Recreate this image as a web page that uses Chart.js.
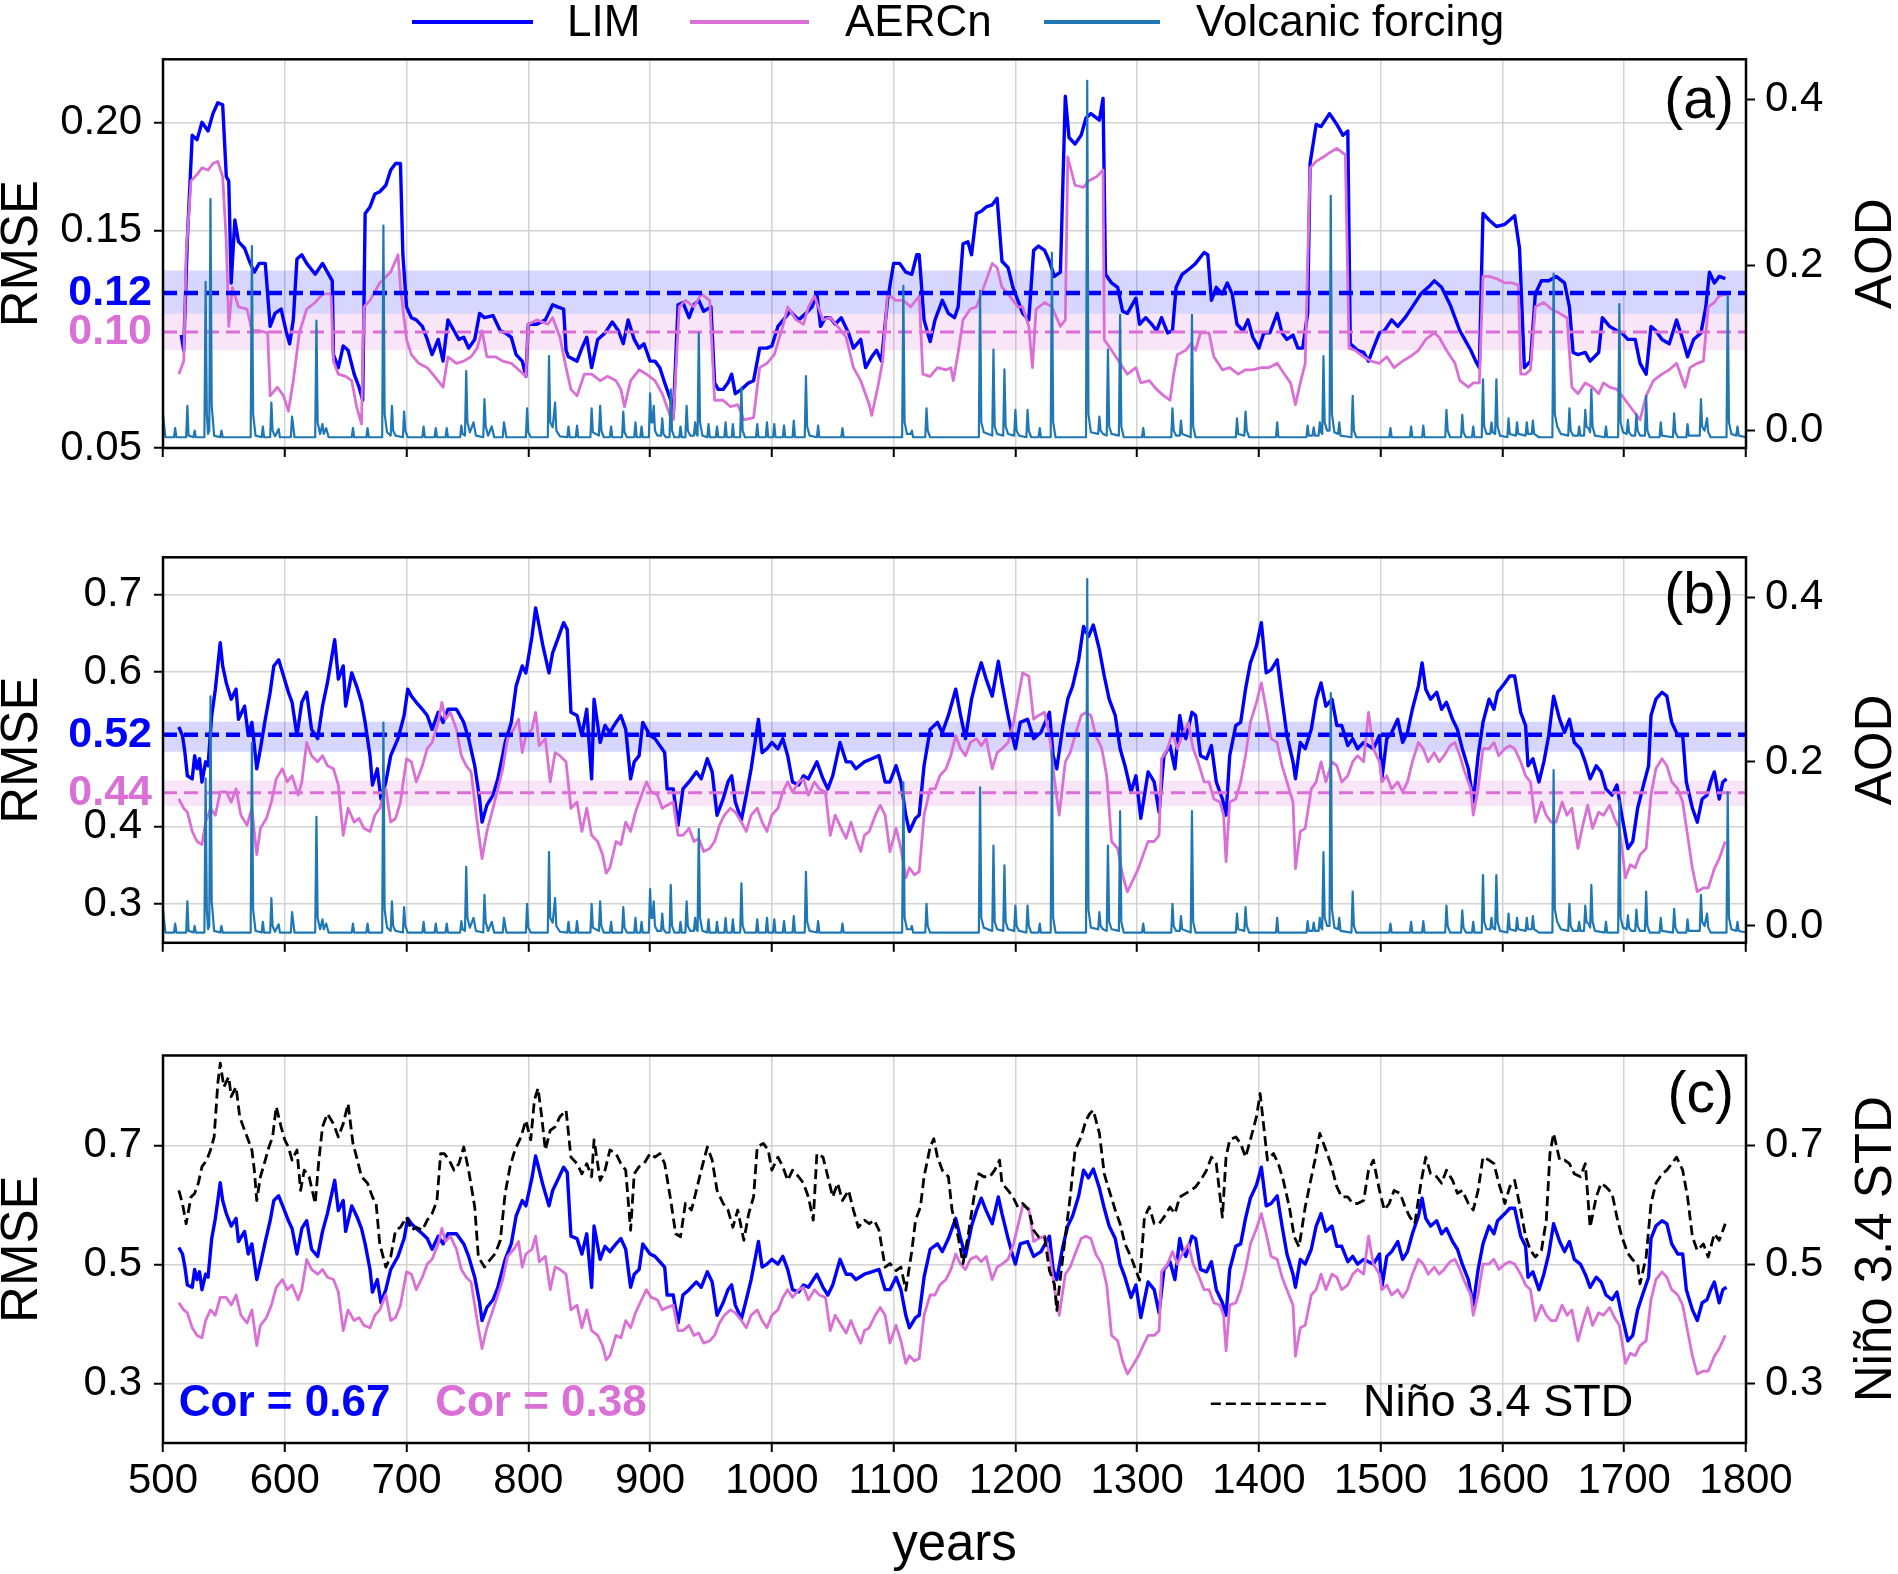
<!DOCTYPE html>
<html>
<head>
<meta charset="utf-8">
<script src="https://cdn.jsdelivr.net/npm/chart.js@4.4.1/dist/chart.umd.min.js"></script>
<style>
html,body{margin:0;padding:0;background:#fff;}
body{width:1898px;height:1574px;position:relative;overflow:hidden;}
.w{position:absolute;left:0;width:1898px;}
</style>
</head>
<body>
<div class="w" style="top:0;height:490px"><canvas id="cA"></canvas></div>
<div class="w" style="top:490px;height:490px"><canvas id="cB"></canvas></div>
<div class="w" style="top:980px;height:594px"><canvas id="cC"></canvas></div>
<script>
// ---------------- DATA ----------------
const xTicks = [500,600,700,800,900,1000,1100,1200,1300,1400,1500,1600,1700,1800];
const ticksA = [0.05, 0.15, 0.20];
const ticksB = [0.3, 0.4, 0.6, 0.7];
const ticksC = [0.3, 0.5, 0.7];
const ticksAOD = [0.0, 0.2, 0.4];

// panel (a) means and +/- bands
const meanA = [0.1214, 0.1034];        // LIM, AERCn
const bandA = [[0.1118, 0.1317], [0.0950, 0.1118]];
// panel (b) means and bands
const meanB = [0.519, 0.444];
const bandB = [[0.497, 0.536], [0.427, 0.460]];

const corText = ["Cor = 0.67", "Cor = 0.38"];

// LIM, panel (a)  [year, RMSE]
const limA = [[515,.102],[517,.095],[520,.146],[524,.194],[528,.192],[532,.200],[537,.196],[541,.204],[545,.209],[549,.208],[552,.175],[554,.173],[556,.126],[559,.155],[562,.145],[567,.142],[571,.136],[575,.131],[579,.135],[584,.135],[588,.106],[592,.112],[597,.114],[601,.104],[604,.098],[607,.109],[610,.137],[614,.139],[618,.135],[625,.130],[631,.135],[635,.131],[639,.127],[640,.093],[644,.087],[648,.097],[652,.095],[657,.084],[661,.078],[664,.072],[666,.158],[670,.161],[674,.167],[678,.168],[683,.171],[687,.178],[691,.181],[695,.181],[697,.139],[700,.115],[704,.110],[708,.109],[713,.106],[717,.100],[721,.093],[726,.100],[730,.090],[734,.109],[739,.104],[743,.100],[747,.101],[751,.096],[756,.100],[760,.112],[764,.110],[771,.111],[777,.104],[781,.103],[786,.101],[790,.093],[795,.090],[798,.083],[800,.107],[807,.107],[814,.109],[820,.116],[824,.115],[829,.114],[831,.095],[833,.092],[840,.090],[844,.096],[848,.101],[852,.087],[857,.100],[863,.103],[869,.108],[874,.104],[878,.098],[882,.109],[887,.100],[891,.096],[895,.098],[900,.090],[904,.090],[908,.087],[912,.080],[917,.072],[919,.064],[923,.116],[927,.117],[932,.110],[936,.116],[940,.118],[944,.113],[950,.115],[953,.080],[956,.077],[960,.077],[964,.080],[967,.084],[970,.075],[975,.077],[981,.080],[985,.081],[990,.096],[996,.096],[1000,.097],[1005,.106],[1011,.110],[1015,.113],[1022,.109],[1028,.112],[1033,.115],[1037,.121],[1040,.106],[1044,.110],[1048,.110],[1052,.107],[1057,.110],[1063,.103],[1067,.096],[1073,.100],[1077,.087],[1082,.092],[1086,.095],[1090,.090],[1095,.118],[1100,.135],[1105,.135],[1110,.131],[1115,.130],[1119,.139],[1121,.139],[1125,.109],[1130,.099],[1134,.109],[1140,.118],[1145,.112],[1150,.110],[1153,.115],[1157,.144],[1161,.145],[1164,.139],[1168,.158],[1172,.159],[1176,.161],[1181,.162],[1185,.165],[1189,.136],[1194,.133],[1198,.124],[1202,.118],[1206,.112],[1211,.109],[1215,.141],[1219,.143],[1224,.141],[1228,.136],[1232,.129],[1237,.131],[1241,.212],[1244,.193],[1249,.190],[1254,.194],[1258,.202],[1262,.204],[1269,.201],[1272,.211],[1274,.130],[1279,.126],[1284,.124],[1288,.113],[1292,.112],[1299,.119],[1302,.107],[1307,.110],[1312,.107],[1316,.104],[1320,.110],[1325,.103],[1329,.104],[1332,.124],[1337,.130],[1344,.133],[1348,.135],[1355,.140],[1358,.139],[1361,.118],[1365,.124],[1370,.121],[1374,.126],[1378,.121],[1382,.107],[1387,.104],[1391,.109],[1395,.101],[1400,.096],[1404,.103],[1409,.103],[1415,.112],[1419,.103],[1423,.100],[1428,.102],[1432,.096],[1436,.096],[1440,.112],[1442,.181],[1447,.199],[1451,.198],[1458,.204],[1464,.199],[1469,.194],[1473,.196],[1475,.098],[1481,.095],[1486,.094],[1490,.090],[1494,.096],[1499,.103],[1503,.104],[1509,.109],[1514,.106],[1520,.110],[1526,.115],[1533,.121],[1539,.124],[1544,.127],[1550,.124],[1557,.116],[1561,.110],[1565,.104],[1569,.100],[1574,.095],[1578,.090],[1581,.087],[1584,.158],[1589,.155],[1595,.152],[1602,.153],[1610,.157],[1614,.142],[1618,.087],[1623,.090],[1627,.121],[1632,.127],[1638,.127],[1644,.129],[1651,.126],[1655,.115],[1658,.094],[1662,.093],[1668,.094],[1672,.090],[1679,.094],[1682,.110],[1688,.106],[1694,.104],[1698,.103],[1703,.100],[1709,.100],[1713,.089],[1718,.084],[1722,.106],[1726,.104],[1731,.100],[1737,.098],[1743,.109],[1748,.100],[1752,.092],[1757,.100],[1763,.103],[1767,.115],[1770,.131],[1774,.126],[1778,.129],[1783,.128]];

// AERCn, panel (a)
const aercA = [[513,.084],[517,.090],[519,.139],[523,.173],[528,.176],[532,.179],[537,.178],[541,.181],[545,.182],[549,.175],[552,.145],[554,.106],[557,.124],[562,.115],[569,.114],[573,.104],[579,.104],[586,.103],[588,.074],[594,.078],[599,.074],[603,.067],[607,.081],[612,.103],[618,.114],[625,.117],[631,.121],[638,.121],[640,.090],[644,.084],[650,.083],[655,.081],[659,.069],[663,.061],[665,.115],[670,.118],[678,.126],[687,.131],[693,.139],[695,.124],[700,.100],[704,.093],[710,.089],[717,.087],[723,.083],[730,.078],[734,.092],[741,.089],[747,.090],[753,.092],[758,.096],[762,.104],[766,.092],[773,.092],[779,.090],[786,.089],[792,.086],[798,.083],[800,.107],[807,.109],[816,.107],[820,.110],[826,.101],[831,.087],[835,.077],[840,.074],[846,.084],[852,.084],[859,.081],[865,.083],[872,.081],[876,.077],[879,.069],[884,.081],[891,.086],[897,.084],[904,.081],[910,.075],[917,.064],[919,.063],[924,.115],[929,.118],[936,.115],[942,.121],[949,.118],[953,.072],[960,.072],[966,.069],[972,.070],[977,.063],[985,.064],[990,.087],[996,.089],[1002,.093],[1009,.106],[1013,.115],[1020,.109],[1026,.107],[1030,.115],[1035,.120],[1042,.109],[1048,.110],[1054,.106],[1061,.101],[1067,.087],[1073,.081],[1080,.070],[1082,.065],[1087,.078],[1091,.090],[1095,.121],[1102,.118],[1108,.118],[1114,.115],[1121,.120],[1124,.084],[1130,.083],[1136,.087],[1143,.086],[1147,.087],[1149,.081],[1153,.094],[1157,.109],[1163,.114],[1168,.115],[1174,.124],[1181,.135],[1185,.133],[1189,.124],[1194,.121],[1202,.115],[1206,.115],[1211,.106],[1214,.087],[1217,.114],[1224,.117],[1230,.115],[1237,.106],[1241,.109],[1243,.184],[1249,.171],[1256,.170],[1260,.173],[1267,.175],[1272,.178],[1273,.100],[1279,.095],[1286,.089],[1292,.084],[1299,.087],[1303,.080],[1310,.081],[1316,.077],[1322,.074],[1327,.072],[1330,.084],[1333,.093],[1340,.095],[1344,.098],[1348,.095],[1352,.103],[1359,.103],[1363,.092],[1370,.086],[1376,.087],[1383,.084],[1389,.086],[1395,.086],[1402,.087],[1408,.087],[1415,.089],[1421,.084],[1426,.080],[1430,.070],[1434,.080],[1438,.089],[1442,.179],[1447,.182],[1453,.184],[1458,.186],[1464,.188],[1471,.185],[1474,.096],[1479,.095],[1486,.092],[1492,.090],[1499,.089],[1505,.092],[1511,.087],[1518,.090],[1524,.092],[1531,.095],[1537,.100],[1544,.103],[1548,.101],[1554,.095],[1561,.089],[1565,.081],[1572,.078],[1576,.080],[1581,.080],[1584,.129],[1589,.129],[1595,.128],[1602,.126],[1608,.126],[1613,.125],[1615,.084],[1619,.084],[1623,.086],[1627,.115],[1634,.117],[1640,.114],[1647,.112],[1653,.110],[1657,.078],[1662,.075],[1668,.080],[1674,.078],[1679,.075],[1683,.080],[1688,.078],[1694,.077],[1701,.072],[1705,.069],[1709,.066],[1713,.063],[1718,.074],[1724,.081],[1731,.084],[1737,.086],[1743,.089],[1750,.078],[1754,.087],[1760,.089],[1765,.090],[1769,.115],[1774,.117],[1778,.120],[1784,.121]];

// LIM, panels (b) and (c)
const limB = [[513,.529],[516,.518],[518,.496],[520,.466],[524,.462],[526,.492],[528,.475],[530,.488],[532,.458],[535,.484],[537,.479],[540,.544],[543,.578],[547,.638],[549,.608],[552,.586],[556,.565],[560,.578],[562,.539],[567,.556],[570,.518],[573,.535],[577,.475],[580,.501],[584,.539],[588,.574],[591,.608],[595,.616],[599,.595],[603,.574],[606,.561],[610,.518],[614,.561],[618,.574],[622,.526],[627,.514],[631,.556],[635,.586],[641,.642],[644,.591],[648,.608],[650,.556],[655,.599],[659,.582],[663,.561],[666,.535],[670,.492],[672,.454],[676,.475],[679,.436],[683,.458],[687,.492],[693,.514],[698,.544],[701,.578],[704,.569],[708,.561],[713,.552],[717,.544],[721,.526],[726,.548],[730,.535],[734,.552],[741,.552],[747,.535],[751,.514],[756,.479],[760,.436],[762,.406],[766,.428],[771,.441],[775,.462],[781,.509],[786,.535],[790,.582],[795,.608],[798,.599],[803,.646],[806,.683],[809,.659],[812,.634],[817,.599],[820,.625],[824,.642],[829,.664],[832,.655],[835,.548],[840,.544],[844,.518],[848,.552],[852,.462],[854,.565],[859,.509],[863,.531],[867,.522],[872,.535],[876,.544],[880,.526],[884,.462],[887,.484],[891,.492],[894,.535],[900,.518],[904,.514],[908,.505],[912,.496],[914,.449],[919,.449],[923,.402],[927,.449],[932,.458],[938,.471],[942,.462],[947,.488],[951,.471],[955,.415],[960,.436],[964,.458],[967,.466],[970,.432],[975,.409],[979,.441],[983,.475],[989,.539],[992,.496],[996,.501],[1000,.509],[1005,.501],[1009,.514],[1013,.492],[1017,.458],[1022,.454],[1026,.466],[1030,.462],[1037,.484],[1042,.462],[1046,.449],[1050,.466],[1056,.509],[1061,.484],[1065,.484],[1069,.475],[1076,.484],[1082,.488],[1088,.492],[1093,.458],[1097,.458],[1102,.479],[1106,.458],[1110,.415],[1113,.394],[1118,.411],[1121,.415],[1125,.479],[1130,.526],[1136,.535],[1140,.522],[1145,.544],[1151,.578],[1155,.544],[1159,.514],[1164,.565],[1168,.591],[1172,.612],[1176,.591],[1181,.569],[1186,.614],[1189,.586],[1194,.544],[1198,.514],[1200,.501],[1204,.535],[1210,.539],[1215,.514],[1221,.522],[1228,.548],[1231,.492],[1234,.475],[1239,.531],[1243,.565],[1247,.582],[1252,.616],[1256,.659],[1260,.646],[1264,.661],[1269,.629],[1273,.595],[1277,.565],[1282,.544],[1286,.501],[1290,.479],[1295,.445],[1299,.466],[1303,.411],[1309,.471],[1314,.458],[1318,.419],[1322,.492],[1327,.505],[1331,.475],[1335,.544],[1337,.526],[1340,.514],[1345,.548],[1348,.544],[1352,.492],[1357,.488],[1361,.505],[1365,.458],[1370,.436],[1373,.415],[1376,.492],[1381,.531],[1385,.535],[1389,.578],[1393,.612],[1398,.634],[1402,.664],[1406,.599],[1410,.603],[1415,.616],[1419,.565],[1423,.518],[1428,.484],[1430,.462],[1434,.509],[1438,.501],[1443,.526],[1447,.565],[1451,.586],[1455,.556],[1460,.565],[1464,.531],[1468,.531],[1473,.505],[1477,.514],[1481,.501],[1486,.509],[1490,.505],[1494,.501],[1499,.518],[1501,.462],[1505,.514],[1509,.522],[1514,.539],[1518,.509],[1522,.522],[1526,.552],[1531,.582],[1534,.612],[1537,.578],[1541,.565],[1546,.574],[1550,.552],[1554,.561],[1559,.539],[1563,.526],[1567,.501],[1572,.475],[1576,.432],[1580,.492],[1584,.535],[1589,.565],[1593,.552],[1596,.574],[1602,.586],[1606,.595],[1610,.595],[1615,.548],[1619,.531],[1621,.479],[1625,.488],[1630,.458],[1634,.484],[1638,.518],[1642,.569],[1647,.539],[1651,.522],[1655,.539],[1659,.509],[1664,.501],[1668,.484],[1672,.462],[1677,.479],[1681,.471],[1685,.449],[1690,.441],[1694,.454],[1698,.415],[1703,.372],[1707,.381],[1711,.424],[1715,.449],[1720,.479],[1722,.544],[1726,.565],[1731,.574],[1735,.569],[1739,.535],[1744,.518],[1748,.518],[1751,.458],[1756,.424],[1760,.406],[1764,.436],[1768,.441],[1771,.458],[1774,.471],[1778,.436],[1781,.458],[1784,.462]];

// AERCn, panels (b) and (c)
const aercB = [[513,.436],[517,.424],[520,.419],[524,.394],[528,.381],[532,.377],[535,.406],[539,.424],[543,.415],[547,.445],[552,.445],[556,.432],[560,.449],[564,.415],[569,.402],[573,.424],[577,.364],[580,.398],[585,.411],[589,.432],[593,.462],[598,.475],[602,.458],[606,.466],[611,.441],[614,.458],[618,.509],[622,.492],[627,.484],[631,.492],[635,.479],[640,.475],[644,.454],[648,.389],[652,.424],[657,.406],[661,.411],[665,.398],[670,.394],[674,.415],[678,.424],[683,.449],[687,.406],[691,.411],[695,.432],[700,.488],[704,.484],[708,.458],[713,.479],[717,.501],[721,.509],[726,.535],[729,.561],[732,.539],[736,.548],[741,.526],[745,.492],[749,.479],[753,.471],[758,.406],[762,.359],[766,.394],[771,.424],[775,.449],[779,.475],[783,.514],[788,.526],[792,.539],[795,.496],[798,.518],[803,.526],[806,.548],[809,.505],[814,.514],[818,.458],[822,.496],[826,.492],[831,.484],[835,.424],[840,.432],[844,.394],[848,.424],[852,.389],[857,.381],[861,.364],[864,.340],[867,.347],[872,.381],[876,.377],[880,.406],[884,.394],[888,.419],[893,.441],[897,.458],[901,.445],[906,.441],[910,.424],[914,.428],[919,.432],[923,.389],[927,.389],[932,.398],[936,.381],[940,.385],[944,.368],[949,.372],[953,.381],[957,.402],[961,.415],[966,.424],[970,.419],[975,.406],[979,.394],[983,.415],[988,.424],[992,.406],[996,.394],[1000,.415],[1005,.424],[1009,.445],[1013,.458],[1017,.445],[1022,.458],[1026,.462],[1030,.441],[1035,.458],[1039,.449],[1044,.445],[1048,.389],[1052,.415],[1057,.398],[1061,.385],[1065,.406],[1069,.385],[1073,.368],[1076,.389],[1080,.394],[1085,.415],[1089,.428],[1093,.415],[1097,.368],[1102,.398],[1106,.372],[1110,.334],[1113,.347],[1117,.338],[1121,.342],[1125,.415],[1130,.449],[1134,.449],[1138,.466],[1143,.475],[1147,.492],[1151,.518],[1155,.501],[1159,.492],[1163,.509],[1168,.514],[1172,.505],[1176,.514],[1181,.475],[1185,.496],[1189,.501],[1194,.509],[1198,.531],[1202,.565],[1206,.599],[1211,.595],[1215,.539],[1219,.544],[1224,.548],[1228,.518],[1232,.462],[1236,.415],[1241,.484],[1245,.496],[1249,.518],[1254,.544],[1258,.548],[1262,.544],[1266,.518],[1271,.501],[1275,.466],[1279,.381],[1284,.372],[1288,.338],[1292,.316],[1296,.329],[1301,.346],[1305,.364],[1309,.381],[1314,.381],[1318,.389],[1320,.488],[1325,.501],[1329,.522],[1333,.501],[1337,.518],[1342,.535],[1346,.501],[1350,.484],[1355,.458],[1359,.458],[1363,.436],[1368,.432],[1371,.415],[1373,.355],[1376,.432],[1381,.436],[1385,.458],[1389,.492],[1393,.535],[1398,.561],[1402,.586],[1406,.552],[1410,.514],[1415,.509],[1419,.479],[1423,.458],[1428,.432],[1430,.346],[1434,.394],[1438,.398],[1443,.449],[1447,.458],[1451,.484],[1455,.458],[1460,.484],[1464,.479],[1468,.458],[1473,.466],[1477,.484],[1481,.492],[1486,.484],[1490,.548],[1494,.501],[1499,.484],[1501,.458],[1505,.466],[1509,.449],[1514,.458],[1518,.445],[1522,.458],[1526,.484],[1531,.509],[1535,.501],[1539,.484],[1544,.496],[1548,.484],[1552,.492],[1557,.505],[1561,.509],[1565,.492],[1569,.471],[1574,.449],[1576,.415],[1580,.449],[1584,.501],[1589,.501],[1593,.509],[1597,.492],[1602,.501],[1606,.505],[1610,.501],[1615,.484],[1619,.466],[1623,.458],[1627,.406],[1632,.432],[1636,.415],[1640,.406],[1644,.406],[1649,.432],[1653,.415],[1657,.424],[1662,.372],[1666,.402],[1670,.428],[1674,.398],[1679,.419],[1683,.415],[1688,.428],[1692,.411],[1696,.398],[1701,.334],[1705,.351],[1709,.347],[1713,.364],[1718,.372],[1722,.441],[1726,.475],[1731,.488],[1735,.479],[1739,.458],[1744,.449],[1748,.432],[1752,.389],[1756,.346],[1760,.316],[1765,.321],[1769,.321],[1774,.346],[1778,.359],[1783,.381]];

// Nino 3.4 STD, panel (c)
const nino = [[513,.625],[516,.603],[519,.569],[523,.614],[526,.620],[529,.637],[532,.665],[536,.676],[539,.693],[542,.715],[545,.805],[547,.839],[550,.799],[554,.816],[556,.783],[560,.799],[563,.749],[567,.726],[570,.710],[573,.693],[575,.659],[577,.608],[580,.648],[584,.676],[587,.698],[590,.715],[593,.766],[597,.732],[600,.710],[603,.698],[606,.676],[610,.693],[613,.625],[616,.659],[620,.648],[625,.603],[628,.676],[631,.732],[635,.754],[640,.737],[644,.715],[648,.737],[652,.771],[656,.704],[659,.681],[663,.648],[668,.637],[672,.614],[675,.603],[678,.535],[683,.496],[687,.513],[691,.558],[695,.563],[700,.580],[704,.558],[708,.563],[713,.558],[717,.575],[721,.586],[725,.608],[728,.687],[731,.687],[735,.676],[739,.659],[743,.670],[747,.698],[751,.659],[756,.597],[759,.513],[764,.496],[768,.507],[773,.519],[777,.541],[781,.620],[785,.665],[789,.693],[794,.715],[798,.743],[802,.710],[805,.777],[808,.797],[811,.749],[814,.693],[818,.726],[822,.732],[826,.749],[831,.760],[835,.681],[840,.670],[844,.653],[848,.670],[852,.648],[854,.710],[859,.642],[863,.659],[867,.693],[872,.687],[876,.670],[880,.659],[884,.558],[887,.653],[891,.665],[895,.670],[900,.687],[904,.681],[908,.687],[912,.670],[917,.608],[921,.552],[925,.547],[929,.603],[934,.592],[938,.625],[942,.659],[947,.698],[951,.676],[955,.625],[960,.603],[964,.592],[968,.563],[972,.592],[977,.541],[981,.586],[985,.614],[988,.698],[993,.704],[997,.693],[1000,.659],[1005,.681],[1009,.665],[1013,.642],[1017,.659],[1022,.648],[1026,.637],[1030,.614],[1034,.575],[1037,.687],[1042,.681],[1046,.648],[1050,.614],[1054,.637],[1058,.608],[1063,.625],[1067,.592],[1071,.563],[1076,.575],[1080,.569],[1084,.575],[1088,.558],[1093,.496],[1097,.502],[1102,.490],[1106,.496],[1110,.457],[1115,.524],[1118,.575],[1122,.597],[1125,.648],[1130,.698],[1133,.712],[1136,.681],[1140,.659],[1145,.648],[1148,.592],[1153,.547],[1157,.502],[1161,.547],[1166,.614],[1170,.653],[1174,.648],[1179,.648],[1183,.659],[1187,.676],[1189,.637],[1194,.625],[1198,.614],[1202,.597],[1206,.603],[1211,.592],[1215,.558],[1219,.547],[1224,.547],[1228,.490],[1232,.468],[1234,.423],[1237,.479],[1241,.547],[1245,.614],[1249,.693],[1254,.715],[1258,.743],[1261,.754],[1264,.760],[1269,.721],[1273,.653],[1277,.625],[1282,.592],[1286,.569],[1290,.535],[1295,.513],[1299,.490],[1302,.474],[1306,.580],[1310,.597],[1314,.569],[1318,.569],[1322,.580],[1327,.597],[1331,.586],[1335,.614],[1340,.620],[1344,.625],[1348,.631],[1352,.642],[1357,.659],[1361,.681],[1365,.670],[1370,.580],[1373,.681],[1376,.710],[1381,.715],[1385,.704],[1389,.681],[1393,.710],[1398,.749],[1401,.788],[1404,.732],[1407,.676],[1412,.687],[1416,.670],[1420,.642],[1425,.597],[1429,.547],[1433,.530],[1438,.597],[1442,.637],[1446,.676],[1450,.721],[1455,.693],[1459,.670],[1464,.631],[1468,.614],[1473,.614],[1477,.603],[1481,.603],[1486,.608],[1490,.659],[1494,.676],[1499,.625],[1503,.592],[1507,.603],[1511,.625],[1516,.620],[1520,.597],[1524,.580],[1528,.569],[1533,.637],[1537,.681],[1541,.653],[1546,.648],[1550,.637],[1554,.659],[1559,.642],[1563,.620],[1567,.625],[1572,.603],[1576,.592],[1580,.625],[1584,.681],[1589,.676],[1593,.670],[1597,.637],[1602,.603],[1606,.631],[1610,.642],[1615,.592],[1619,.547],[1623,.524],[1627,.513],[1632,.524],[1636,.575],[1639,.687],[1642,.721],[1647,.676],[1651,.676],[1655,.670],[1659,.653],[1664,.648],[1668,.670],[1672,.563],[1677,.614],[1681,.637],[1685,.631],[1690,.620],[1694,.580],[1698,.547],[1703,.519],[1707,.508],[1711,.502],[1713,.468],[1718,.513],[1722,.603],[1726,.637],[1731,.653],[1735,.659],[1739,.670],[1743,.681],[1748,.659],[1752,.614],[1756,.547],[1760,.524],[1765,.535],[1769,.513],[1774,.552],[1778,.541],[1783,.569]];

// Volcanic forcing (AOD), panels (a) and (b)
const volc = [[500,0.02],[502,-0.008],[509,-0.008],[510,0.003],[511,-0.008],[519,-0.008],[520,0.03],[521,-0.006],[525,-0.008],[526,0.0],[527,-0.008],
[534,-0.008],[535,0.18],[536,0.02],[537,-0.004],[538,0.0],[539,0.28],[540,0.03],[542,-0.006],[547,-0.008],[548,0.0],[549,-0.008],
[572,-0.008],[573,0.223],[574,0.02],[576,-0.006],[581,-0.008],[582,0.005],[583,-0.008],[588,-0.008],[589,0.034],[590,0.0],[592,-0.007],[595,0.002],[596,-0.008],
[605,-0.008],[606,0.017],[608,-0.008],[625,-0.008],[626,0.133],[627,0.01],[629,-0.004],[631,0.008],[632,-0.004],[634,0.003],[636,-0.008],
[655,-0.008],[656,0.003],[657,-0.008],[667,-0.008],[668,0.003],[669,-0.008],
[680,-0.008],[681,0.248],[682,0.02],[684,-0.002],[687,-0.006],[688,0.03],[689,0.0],[691,-0.006],[697,-0.008],[698,0.023],[699,0.0],[701,-0.008],
[713,-0.008],[714,0.005],[715,-0.008],[723,-0.008],[724,0.003],[725,-0.008],[732,-0.008],[733,0.003],[734,-0.008],[744,-0.008],[745,0.006],[746,-0.004],[748,-0.006],[749,0.072],[750,0.01],[752,-0.002],[755,0.01],[757,-0.006],[763,-0.008],[764,0.038],[765,0.005],[767,-0.006],[770,0.005],[772,-0.008],[779,-0.008],[780,0.01],[782,-0.008],
[798,-0.008],[799,0.027],[800,-0.002],[802,-0.008],[816,-0.008],[817,0.09],[818,0.01],[820,0.004],[822,0.034],[823,0.0],[826,-0.007],[832,-0.008],[833,0.005],[834,-0.008],[839,-0.008],[840,0.006],[841,-0.008],
[851,-0.008],[852,0.027],[853,-0.002],[858,-0.006],[859,0.03],[860,0.0],[862,-0.008],[867,-0.008],[868,0.005],[869,-0.008],[877,-0.008],[878,0.023],[879,-0.002],[881,-0.008],[887,-0.008],[888,0.01],[889,-0.008],[892,-0.008],[893,0.005],[894,-0.008],
[899,-0.008],[900,0.045],[901,0.01],[902,0.01],[903,0.03],[904,0.0],[906,-0.006],[909,-0.006],[910,0.015],[911,-0.004],[913,-0.008],[916,-0.008],[917,0.05],[918,0.0],[920,-0.008],[924,-0.008],[925,0.005],[926,-0.008],[929,-0.008],[930,0.03],[931,0.0],[933,-0.006],[936,-0.006],[937,0.01],[938,-0.004],[939,-0.006],[940,0.118],[941,0.01],[943,-0.006],
[947,-0.008],[948,0.008],[949,-0.008],[954,-0.008],[955,0.005],[956,-0.008],[961,-0.008],[962,0.01],[963,-0.008],[967,-0.008],[968,0.008],[969,-0.008],[974,-0.008],[975,0.052],[976,0.0],[978,-0.008],
[987,-0.008],[988,0.008],[989,-0.008],[995,-0.008],[996,0.01],[997,-0.008],[1001,-0.008],[1002,0.008],[1003,-0.008],[1009,-0.008],[1010,0.006],[1011,-0.008],[1017,-0.008],[1018,0.012],[1019,-0.008],[1027,-0.008],[1028,0.066],[1029,0.005],[1031,-0.006],[1037,-0.008],[1038,0.006],[1039,-0.008],
[1057,-0.008],[1058,0.003],[1059,-0.008],
[1107,-0.008],[1108,0.175],[1109,0.01],[1111,-0.004],[1114,-0.004],[1115,0.0],[1116,-0.008],[1126,-0.008],[1127,0.027],[1128,0.0],[1130,-0.008],
[1170,-0.008],[1171,0.169],[1172,0.01],[1174,-0.002],[1181,-0.006],[1182,0.098],[1183,0.005],[1185,-0.004],[1190,-0.006],[1191,0.074],[1192,0.005],[1194,-0.004],[1199,-0.006],[1200,0.025],[1201,0.0],[1203,-0.006],[1209,-0.008],[1210,0.025],[1211,0.0],[1213,-0.008],[1219,-0.008],[1220,0.003],[1221,-0.008],
[1229,-0.008],[1230,0.215],[1231,0.01],[1233,-0.008],
[1258,-0.008],[1259,0.423],[1260,0.02],[1262,-0.002],[1268,-0.004],[1269,0.017],[1270,0.0],[1272,-0.004],[1275,-0.006],[1276,0.098],[1277,0.005],[1279,-0.004],[1285,-0.006],[1286,0.14],[1287,0.005],[1289,-0.008],
[1304,-0.008],[1305,0.003],[1306,-0.008],[1328,-0.008],[1329,0.027],[1330,0.0],[1332,-0.006],[1335,-0.006],[1336,0.012],[1337,-0.004],[1344,-0.008],[1345,0.14],[1346,0.005],[1348,-0.008],
[1381,-0.008],[1382,0.015],[1383,-0.004],[1388,-0.006],[1389,0.023],[1390,0.0],[1392,-0.008],[1414,-0.008],[1415,0.01],[1416,-0.008],
[1439,-0.008],[1440,0.006],[1441,-0.006],[1444,-0.006],[1445,0.004],[1446,-0.006],[1449,-0.006],[1450,0.01],[1451,-0.002],[1452,-0.004],[1453,0.09],[1454,0.01],[1456,0.0],[1458,0.0],[1459,0.284],[1460,0.02],[1462,-0.002],[1465,-0.004],[1466,0.01],[1467,-0.006],[1476,-0.008],[1477,0.042],[1478,0.0],[1480,-0.008],
[1507,-0.008],[1508,0.003],[1509,-0.008],[1524,-0.008],[1525,0.005],[1526,-0.008],[1534,-0.008],[1535,0.006],[1536,-0.008],[1553,-0.008],[1554,0.025],[1555,0.0],[1557,-0.008],[1566,-0.008],[1567,0.019],[1568,-0.002],[1570,-0.008],[1575,-0.008],[1576,0.005],[1577,-0.008],
[1583,-0.008],[1584,0.062],[1585,0.005],[1587,-0.004],[1590,-0.004],[1591,0.01],[1592,-0.002],[1594,-0.004],[1595,0.062],[1596,0.005],[1598,-0.006],[1604,-0.008],[1605,0.015],[1606,-0.004],[1611,-0.006],[1612,0.01],[1613,-0.004],[1619,-0.006],[1620,0.01],[1621,-0.004],[1624,-0.004],[1625,0.012],[1626,-0.004],[1630,-0.008],
[1641,-0.008],[1642,0.19],[1643,0.02],[1645,0.005],[1648,-0.004],[1654,-0.006],[1655,0.027],[1656,0.0],[1658,-0.006],[1662,-0.006],[1663,0.005],[1664,-0.006],[1667,-0.006],[1668,0.025],[1669,0.005],[1671,0.002],[1672,-0.002],[1673,0.05],[1674,0.005],[1676,-0.006],[1684,-0.008],[1685,0.005],[1686,-0.008],
[1695,-0.008],[1696,0.153],[1697,0.01],[1699,-0.002],[1702,-0.004],[1703,0.013],[1704,-0.002],[1706,-0.006],[1709,-0.006],[1710,0.02],[1711,0.0],[1713,-0.006],[1717,-0.006],[1718,0.042],[1719,0.0],[1721,-0.008],[1729,-0.008],[1730,0.01],[1731,-0.006],
[1740,-0.008],[1741,0.021],[1742,-0.002],[1744,-0.008],[1751,-0.008],[1752,0.008],[1753,-0.006],[1762,-0.006],[1763,0.038],[1764,0.005],[1766,0.0],[1768,0.015],[1769,-0.002],[1771,-0.008],
[1784,-0.008],[1785,0.163],[1786,0.01],[1788,-0.004],[1792,-0.006],[1793,0.005],[1794,-0.006],[1800,-0.008]];

// ---------------- STYLE ----------------
const FONT = "'Liberation Sans', Arial, Helvetica, sans-serif";
Chart.defaults.font.family = FONT;
Chart.defaults.color = '#000';
const C_LIM = '#0000ff', C_AER = '#da70d6', C_VOL = '#1f77b4';
const LEFT_W = 163, RIGHT_W = 152;
const TICK_FONT = 42, TITLE_FONT = 51;

const overlay = {
  id: 'overlay',
  afterDraw(chart, args, opts) {
    const ctx = chart.ctx, ca = chart.chartArea;
    ctx.save();
    ctx.strokeStyle = '#000'; ctx.lineWidth = 2.5;
    ctx.strokeRect(ca.left, ca.top, ca.right - ca.left, ca.bottom - ca.top);
    (opts.lines || []).forEach(l => {
      ctx.save();
      ctx.strokeStyle = l.color; ctx.lineWidth = l.width;
      ctx.setLineDash(l.dash || []);
      const x1 = l.x1 !== undefined ? chart.scales.x.getPixelForValue(l.x1) : l.px1;
      const x2 = l.x2 !== undefined ? chart.scales.x.getPixelForValue(l.x2) : l.px2;
      const y = l.y !== undefined ? chart.scales.y.getPixelForValue(l.y) : l.py;
      ctx.beginPath(); ctx.moveTo(x1, y); ctx.lineTo(x2, y); ctx.stroke();
      ctx.restore();
    });
    (opts.texts || []).forEach(t => {
      ctx.save();
      ctx.font = t.font; ctx.fillStyle = t.color || '#000';
      ctx.textAlign = t.align || 'left'; ctx.textBaseline = 'middle';
      let x = t.x !== undefined ? chart.scales.x.getPixelForValue(t.x) : (t.pxFromLeft !== undefined ? ca.left + t.pxFromLeft : (t.pxFromRight !== undefined ? ca.right - t.pxFromRight : t.px));
      let y = t.y !== undefined ? chart.scales[t.axis || 'y'].getPixelForValue(t.y) : (t.pyFromTop !== undefined ? ca.top + t.pyFromTop : (t.center ? (ca.top + ca.bottom) / 2 : t.py));
      if (t.rot) { ctx.translate(x, y); ctx.rotate(t.rot); ctx.fillText(t.text, 0, 0); }
      else ctx.fillText(t.text, x, y);
      ctx.restore();
    });
    ctx.restore();
  }
};

function xAxis(height, showLabels) {
  return {
    type: 'linear', position: 'bottom', min: 500, max: 1800,
    afterBuildTicks: s => { s.ticks = xTicks.map(v => ({ value: v })); },
    afterFit: s => { s.height = height; },
    ticks: { display: showLabels, font: { size: TICK_FONT }, padding: 4, maxRotation: 0, autoSkip: false, callback: v => String(v) },
    grid: { color: '#d3d3d3', lineWidth: 1.5, tickColor: '#000', tickLength: 9, tickWidth: 2 },
    border: { display: false },
    title: showLabels ? { display: true, text: 'years', font: { size: TITLE_FONT, lineHeight: 1.1 }, padding: { top: 0, bottom: 0 } } : { display: false }
  };
}
function yLeft(min, max, ticks, dec) {
  return {
    type: 'linear', position: 'left', min, max,
    afterBuildTicks: s => { s.ticks = ticks.map(v => ({ value: v })); },
    afterFit: s => { s.width = LEFT_W; },
    ticks: { font: { size: TICK_FONT }, padding: 12, callback: v => Number(v).toFixed(dec) },
    grid: { color: '#d3d3d3', lineWidth: 1.5, tickColor: '#000', tickLength: 9, tickWidth: 2 },
    border: { display: false },
    title: { display: true, text: 'RMSE', font: { size: TITLE_FONT, lineHeight: 0.88 }, padding: 0 }
  };
}
function yRight(min, max, ticks, dec) {
  return {
    type: 'linear', position: 'right', min, max,
    afterBuildTicks: s => { s.ticks = ticks.map(v => ({ value: v })); },
    afterFit: s => { s.width = RIGHT_W; },
    ticks: { font: { size: TICK_FONT }, padding: 10, callback: v => Number(v).toFixed(dec) },
    grid: { drawOnChartArea: false, tickColor: '#000', tickLength: 9, tickWidth: 2 },
    border: { display: false }
  };
}
function line(data, color, width, axis, dash) {
  return { data, borderColor: color, borderWidth: width, yAxisID: axis, pointRadius: 0, tension: 0, fill: false,
           borderDash: dash || [], borderJoinStyle: 'round', borderCapStyle: 'butt' };
}
function band(lo, hi, color) {
  return { data: [[500, hi], [1800, hi]], borderWidth: 0, borderColor: 'rgba(0,0,0,0)', backgroundColor: color,
           fill: { value: lo }, pointRadius: 0, yAxisID: 'y' };
}
function baseOptions(padTop, scales, overlayOpts) {
  return {
    responsive: true, maintainAspectRatio: false, animation: false,
    layout: { padding: { top: padTop, left: 0, right: 0, bottom: 0 } },
    plugins: { legend: { display: false }, tooltip: { enabled: false }, overlay: overlayOpts },
    scales
  };
}

const BOLD_LBL = "bold 43px " + FONT;
const PANEL_FONT = "57px " + FONT;
const TITLE_CSS = TITLE_FONT + "px " + FONT;
const LEG_FONT = "44px " + FONT;

// ---- Panel (a) ----
new Chart(document.getElementById('cA'), {
  type: 'line',
  data: { datasets: [
    line(volc, C_VOL, 2.2, 'y2'),
    line([[500, meanA[0]], [1800, meanA[0]]], C_LIM, 4.5, 'y', [14, 7]),
    line([[500, meanA[1]], [1800, meanA[1]]], C_AER, 3, 'y', [14, 7]),
    line(aercA, C_AER, 2.8, 'y'),
    line(limA, C_LIM, 3.4, 'y'),
    band(bandA[0][0], bandA[0][1], 'rgba(0,0,255,0.16)'),
    band(bandA[1][0], bandA[1][1], 'rgba(218,112,214,0.18)')
  ]},
  options: baseOptions(59.3, {
    x: xAxis(42, false),
    y: yLeft(0.05, 0.229, ticksA, 2),
    y2: yRight(-0.021, 0.449, ticksAOD, 1)
  }, {
    lines: [
      { px1: 412, px2: 533, py: 22, color: C_LIM, width: 4 },
      { px1: 690, px2: 809, py: 22, color: C_AER, width: 4 },
      { px1: 1044, px2: 1160, py: 22, color: C_VOL, width: 4 }
    ],
    texts: [
      { text: 'LIM', px: 567, py: 24, font: LEG_FONT },
      { text: 'AERCn', px: 845, py: 24, font: LEG_FONT },
      { text: 'Volcanic forcing', px: 1196, py: 24, font: LEG_FONT },
      { text: meanA[0].toFixed(2), pxFromLeft: -11, y: meanA[0], font: BOLD_LBL, color: C_LIM, align: 'right' },
      { text: meanA[1].toFixed(2), pxFromLeft: -11, y: meanA[1], font: BOLD_LBL, color: C_AER, align: 'right' },
      { text: '(a)', pxFromRight: 12, pyFromTop: 43, font: PANEL_FONT, align: 'right' },
      { text: 'AOD', px: 1877, center: true, font: TITLE_CSS, align: 'center', rot: -Math.PI / 2 }
    ]
  }),
  plugins: [overlay]
});

// ---- Panel (b) ----
new Chart(document.getElementById('cB'), {
  type: 'line',
  data: { datasets: [
    line(volc, C_VOL, 2.2, 'y2'),
    line([[500, meanB[0]], [1800, meanB[0]]], C_LIM, 4.5, 'y', [14, 7]),
    line([[500, meanB[1]], [1800, meanB[1]]], C_AER, 3, 'y', [14, 7]),
    line(aercB, C_AER, 2.8, 'y'),
    line(limB, C_LIM, 3.4, 'y'),
    band(bandB[0][0], bandB[0][1], 'rgba(0,0,255,0.16)'),
    band(bandB[1][0], bandB[1][1], 'rgba(218,112,214,0.18)')
  ]},
  options: baseOptions(67.3, {
    x: xAxis(35, false),
    y: yLeft(0.25, 0.7485, ticksB, 1),
    y2: yRight(-0.0205, 0.4495, ticksAOD, 1)
  }, {
    texts: [
      { text: meanB[0].toFixed(2), pxFromLeft: -11, y: meanB[0], font: BOLD_LBL, color: C_LIM, align: 'right' },
      { text: meanB[1].toFixed(2), pxFromLeft: -11, y: meanB[1], font: BOLD_LBL, color: C_AER, align: 'right' },
      { text: '(b)', pxFromRight: 12, pyFromTop: 40, font: PANEL_FONT, align: 'right' },
      { text: 'AOD', px: 1877, center: true, font: TITLE_CSS, align: 'center', rot: -Math.PI / 2 }
    ]
  }),
  plugins: [overlay]
});

// ---- Panel (c) ----
new Chart(document.getElementById('cC'), {
  type: 'line',
  data: { datasets: [
    line(nino, '#000000', 2.8, 'y', [10, 5]),
    line(aercB, C_AER, 2.8, 'y'),
    line(limB, C_LIM, 3.4, 'y')
  ]},
  options: baseOptions(75.5, {
    x: xAxis(131, true),
    y: yLeft(0.2, 0.852, ticksC, 1),
    y2: yRight(0.2, 0.852, ticksC, 1)
  }, {
    lines: [
      { x1: 1360.5, x2: 1456, y: 0.266, color: '#000', width: 2.5, dash: [10, 5] }
    ],
    texts: [
      { text: corText[0], x: 513, y: 0.266, font: "bold 44px " + FONT, color: C_LIM },
      { text: corText[1], x: 723.5, y: 0.266, font: "bold 44px " + FONT, color: C_AER },
      { text: 'Niño 3.4 STD', x: 1485.5, y: 0.266, font: "45px " + FONT },
      { text: '(c)', pxFromRight: 12, pyFromTop: 41, font: PANEL_FONT, align: 'right' },
      { text: 'Niño 3.4 STD', px: 1877, center: true, font: TITLE_CSS, align: 'center', rot: -Math.PI / 2 }
    ]
  }),
  plugins: [overlay]
});
</script>
</body>
</html>
